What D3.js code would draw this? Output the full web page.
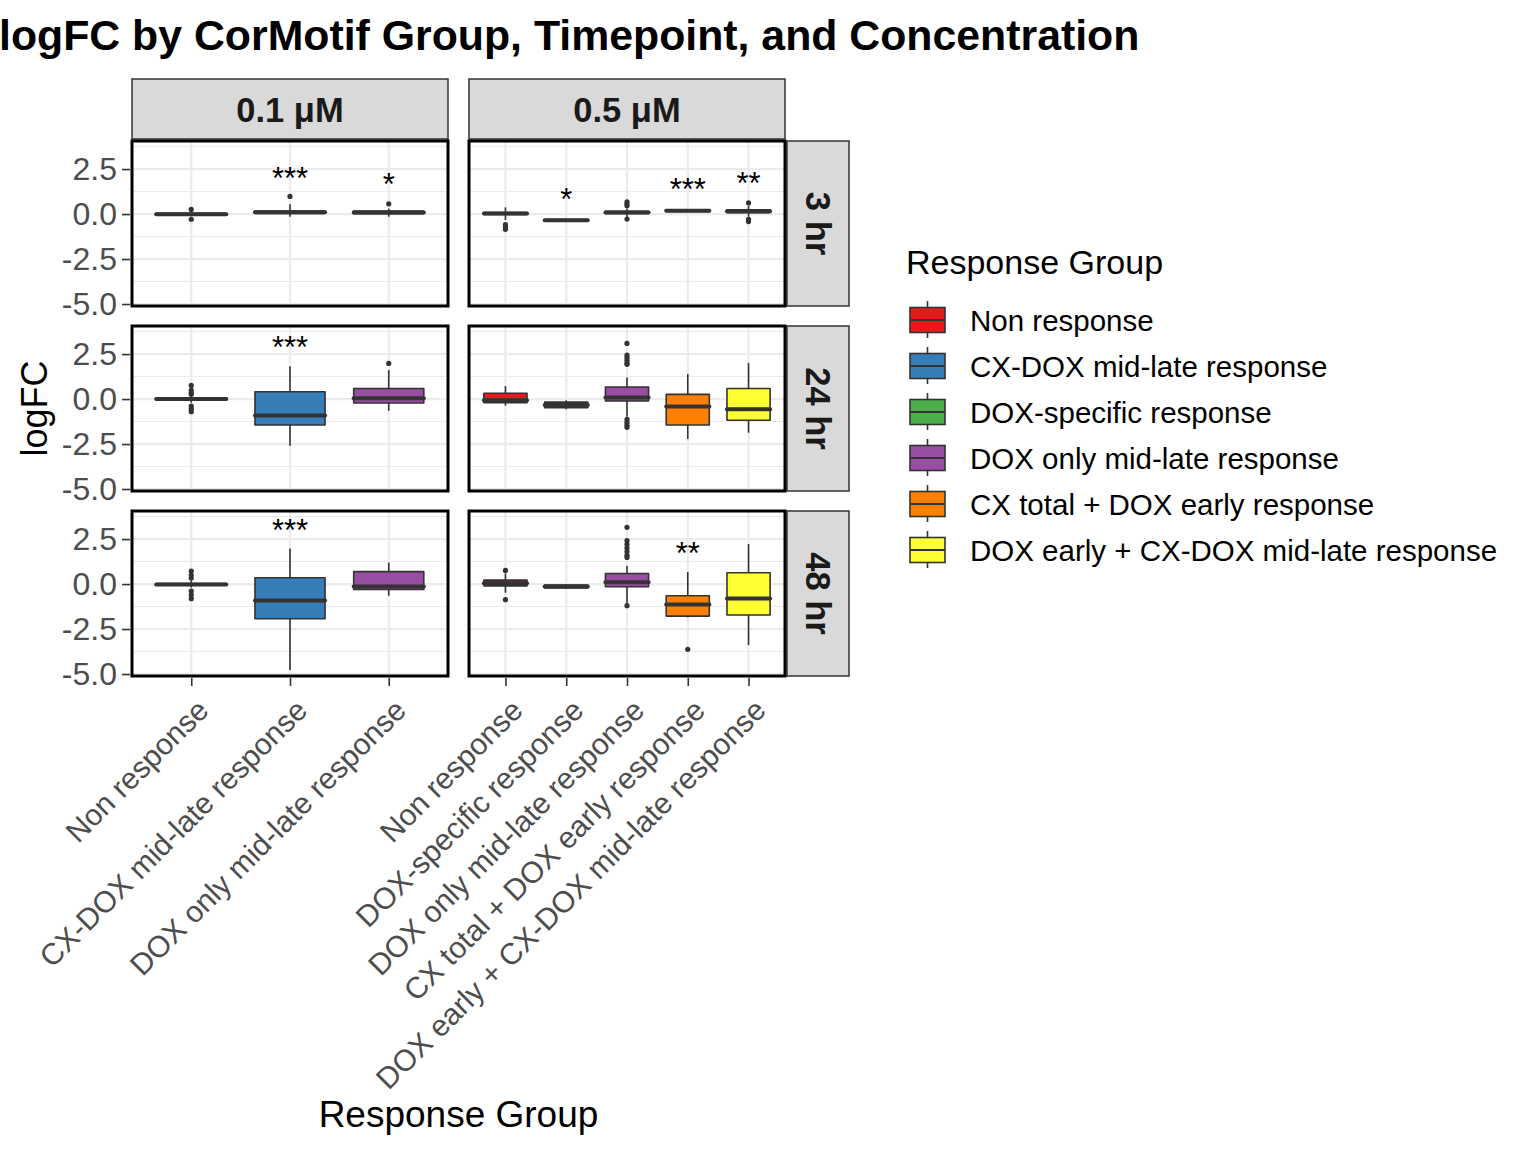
<!DOCTYPE html>
<html>
<head>
<meta charset="utf-8">
<script src="https://cdn.jsdelivr.net/npm/d3@7"></script>
<style>
  body { margin: 0; background: #fff; }
  text { font-family: "Liberation Sans", Arial, sans-serif; }
</style>
</head>
<body>
<svg id="chart" width="1536" height="1152"></svg>
<script>
// facet labels
const concentrations = ["0.1 μM", "0.5 μM"];
const timepoints = ["3 hr", "24 hr", "48 hr"];

// response groups + Set1 colours
const groups = [
  "Non response",
  "CX-DOX mid-late response",
  "DOX-specific response",
  "DOX only mid-late response",
  "CX total + DOX early response",
  "DOX early + CX-DOX mid-late response",
];
const groupColors = ["#E41A1C", "#377EB8", "#4DAF4A", "#984EA3", "#FF7F00", "#FFFF33"];

// groups present in each concentration column
const groups01 = ["Non response", "CX-DOX mid-late response", "DOX only mid-late response"];
const groups05 = [
  "Non response",
  "DOX-specific response",
  "DOX only mid-late response",
  "CX total + DOX early response",
  "DOX early + CX-DOX mid-late response",
];

const yTicks = [-5, -2.5, 0, 2.5];
const yTickLabels = ["-5.0", "-2.5", "0.0", "2.5"];
const yMinor = [-3.75, -1.25, 1.25, 3.75];

// box stats: [whisker low, q1, median, q3, whisker high], one row per group
const box3hr01 = [[-0.12, -0.05, -0.01, 0.04, 0.1], [-0.15, 0.04, 0.1, 0.17, 0.54], [-0.15, 0.02, 0.09, 0.16, 0.3]];
const out3hr01 = [[0.26, -0.29], [0.98], [0.57]];
const box3hr05 = [[-0.33, -0.02, 0.03, 0.08, 0.37], [-0.42, -0.39, -0.35, -0.31, -0.28], [-0.2, 0.03, 0.08, 0.15, 0.3], [0.12, 0.15, 0.19, 0.23, 0.26], [-0.15, 0.08, 0.15, 0.24, 0.45]];
const out3hr05 = [[-0.58, -0.7, -0.85], [], [0.46, 0.56, 0.68, -0.28], [], [0.62, -0.3, -0.42]];

const box24hr01 = [[-0.2, -0.04, 0.0, 0.05, 0.2], [-2.59, -1.44, -0.91, 0.41, 1.82], [-0.65, -0.22, 0.04, 0.59, 1.61]];
const out24hr01 = [[0.76, 0.5, 0.35, 0.27, -0.39, -0.55, -0.7], [], [1.98]];
const box24hr05 = [[-0.37, -0.2, -0.07, 0.32, 0.72], [-0.57, -0.48, -0.33, -0.17, -0.07], [-0.98, -0.11, 0.08, 0.67, 1.2], [-2.22, -1.44, -0.41, 0.26, 1.39], [-1.87, -1.18, -0.57, 0.59, 2.0]];
const out24hr05 = [[], [], [3.09, 2.44, 2.3, 2.15, 2.0, 1.93, -1.13, -1.3, -1.45, -1.57], [], []];

const box48hr01 = [[-0.2, -0.05, -0.02, 0.03, 0.2], [-4.78, -1.93, -0.91, 0.35, 1.98], [-0.65, -0.3, -0.13, 0.69, 1.2]];
const out48hr01 = [[0.72, 0.5, 0.33, -0.39, -0.6, -0.81], [], []];
const box48hr05 = [[-0.48, -0.1, 0.05, 0.22, 0.59], [-0.26, -0.22, -0.13, -0.05, -0.02], [-1.1, -0.15, 0.1, 0.59, 1.0], [-1.85, -1.78, -1.13, -0.65, 0.67], [-3.39, -1.72, -0.8, 0.63, 2.22]];
const out48hr05 = [[0.76, -0.87], [], [3.15, 2.41, 2.2, 2.0, 1.8, 1.6, 1.48, -1.2], [-3.63], []];

// significance labels: [row, col, group, label, y]
const stars = [
  [0, 0, "CX-DOX mid-late response", "***", 2.39],
  [0, 0, "DOX only mid-late response", "*", 2.02],
  [0, 1, "DOX-specific response", "*", 1.18],
  [0, 1, "CX total + DOX early response", "***", 1.74],
  [0, 1, "DOX early + CX-DOX mid-late response", "**", 2.11],
  [1, 0, "CX-DOX mid-late response", "***", 3.24],
  [2, 0, "CX-DOX mid-late response", "***", 3.37],
  [2, 1, "CX total + DOX early response", "**", 2.07],
];

const boxes = [[box3hr01, box3hr05], [box24hr01, box24hr05], [box48hr01, box48hr05]];
const outs = [[out3hr01, out3hr05], [out24hr01, out24hr05], [out48hr01, out48hr05]];
const colGroups = [groups01, groups05];

// layout
const colX = [[132, 448], [469, 785]];
const rowY = [141, 326, 511];
const panelH = 165;
const stripTop = { y0: 79, y1: 139 };
const stripRight = { x0: 787, x1: 849 };

const color = d3.scaleOrdinal().domain(groups).range(groupColors);
const svg = d3.select("#chart");

const xScales = colX.map((c, i) =>
  d3.scalePoint().domain(colGroups[i]).range(c).padding(0.6)
);
const yScales = rowY.map((top) =>
  d3.scaleLinear().domain([-5.11, 4.06]).range([top + panelH, top])
);

// title
svg.append("text")
  .attr("x", -1).attr("y", 50)
  .attr("font-size", 42.8).attr("font-weight", "bold")
  .attr("fill", "#000")
  .text("logFC by CorMotif Group, Timepoint, and Concentration");

// top strips
concentrations.forEach((c, i) => {
  const [x0, x1] = colX[i];
  svg.append("rect")
    .attr("x", x0).attr("y", stripTop.y0)
    .attr("width", x1 - x0).attr("height", stripTop.y1 - stripTop.y0)
    .attr("fill", "#D9D9D9").attr("stroke", "#333").attr("stroke-width", 1.5);
  svg.append("text")
    .attr("x", (x0 + x1) / 2).attr("y", 122)
    .attr("text-anchor", "middle")
    .attr("font-size", 34.5).attr("font-weight", "bold").attr("fill", "#1A1A1A")
    .text(c);
});

// right strips
timepoints.forEach((t, r) => {
  svg.append("rect")
    .attr("x", stripRight.x0).attr("y", rowY[r])
    .attr("width", stripRight.x1 - stripRight.x0).attr("height", panelH)
    .attr("fill", "#D9D9D9").attr("stroke", "#333").attr("stroke-width", 1.5);
  const cx = (stripRight.x0 + stripRight.x1) / 2;
  const cy = rowY[r] + panelH / 2;
  svg.append("text")
    .attr("transform", `translate(${cx},${cy}) rotate(90)`)
    .attr("text-anchor", "middle").attr("dy", "0.35em")
    .attr("font-size", 34.5).attr("font-weight", "bold").attr("fill", "#1A1A1A")
    .text(t);
});

// panels
rowY.forEach((top, r) => {
  const y = yScales[r];
  colX.forEach(([x0, x1], c) => {
    const x = xScales[c];
    const g = svg.append("g");
    const step = x.step();
    const bw = step * 0.71;

    // grid
    g.selectAll(".minor").data(yMinor).enter().append("line")
      .attr("x1", x0).attr("x2", x1)
      .attr("y1", (d) => y(d)).attr("y2", (d) => y(d))
      .attr("stroke", "#EBEBEB").attr("stroke-width", 1.1);
    g.selectAll(".major").data(yTicks).enter().append("line")
      .attr("x1", x0).attr("x2", x1)
      .attr("y1", (d) => y(d)).attr("y2", (d) => y(d))
      .attr("stroke", "#EBEBEB").attr("stroke-width", 2.2);
    g.selectAll(".vmajor").data(colGroups[c]).enter().append("line")
      .attr("x1", (d) => x(d)).attr("x2", (d) => x(d))
      .attr("y1", top).attr("y2", top + panelH)
      .attr("stroke", "#EBEBEB").attr("stroke-width", 2.2);

    // boxes
    const stats = boxes[r][c];
    colGroups[c].forEach((grp, i) => {
      const [lo, q1, med, q3, hi] = stats[i];
      const cx = x(grp);
      g.append("line")
        .attr("x1", cx).attr("x2", cx)
        .attr("y1", y(hi)).attr("y2", y(q3))
        .attr("stroke", "#333").attr("stroke-width", 1.6);
      g.append("line")
        .attr("x1", cx).attr("x2", cx)
        .attr("y1", y(q1)).attr("y2", y(lo))
        .attr("stroke", "#333").attr("stroke-width", 1.6);
      g.append("rect")
        .attr("x", cx - bw / 2).attr("width", bw)
        .attr("y", y(q3)).attr("height", Math.max(0.01, y(q1) - y(q3)))
        .attr("fill", color(grp))
        .attr("stroke", "#333").attr("stroke-width", 1.6)
        .attr("stroke-linejoin", "round");
      g.append("line")
        .attr("x1", cx - bw / 2).attr("x2", cx + bw / 2)
        .attr("y1", y(med)).attr("y2", y(med))
        .attr("stroke", "#333").attr("stroke-width", 4)
        .attr("stroke-linecap", "round");
      g.selectAll(null).data(outs[r][c][i]).enter().append("circle")
        .attr("cx", cx).attr("cy", (d) => y(d))
        .attr("r", 2.6).attr("fill", "#333");
    });

    // stars
    stars.filter((s) => s[0] === r && s[1] === c).forEach((s) => {
      g.append("text")
        .attr("x", x(s[2])).attr("y", y(s[4]) + 17.5)
        .attr("text-anchor", "middle")
        .attr("font-size", 31).attr("fill", "#000")
        .text(s[3]);
    });

    // border
    svg.append("rect")
      .attr("x", x0).attr("y", top)
      .attr("width", x1 - x0).attr("height", panelH)
      .attr("fill", "none").attr("stroke", "#000").attr("stroke-width", 3);
  });

  // y axis
  const ax = svg.append("g")
    .attr("transform", `translate(${colX[0][0] - 2},0)`)
    .call(d3.axisLeft(y).tickValues(yTicks)
      .tickFormat((d, i) => yTickLabels[i]).tickSize(8).tickPadding(5));
  ax.select(".domain").remove();
  ax.selectAll(".tick line").attr("stroke", "#333").attr("stroke-width", 1.6);
  ax.selectAll(".tick text")
    .attr("fill", "#4D4D4D").attr("font-size", 32)
    .attr("font-family", "Liberation Sans, Arial, sans-serif");
});

// x axes (bottom row)
const bottom = rowY[2] + panelH + 2;
xScales.forEach((x, c) => {
  const ax = svg.append("g")
    .attr("transform", `translate(0,${bottom})`)
    .call(d3.axisBottom(x).tickSize(8).tickFormat(""));
  ax.select(".domain").remove();
  ax.selectAll(".tick line").attr("stroke", "#333").attr("stroke-width", 1.6);

  svg.selectAll(null).data(colGroups[c]).enter().append("text")
    .attr("transform", (d) => `translate(${x(d) + 4},${bottom + 19}) rotate(-45)`)
    .attr("text-anchor", "end").attr("dy", "0.71em")
    .attr("font-size", 30).attr("fill", "#4D4D4D")
    .text((d) => d);
});

// axis titles
svg.append("text")
  .attr("transform", `translate(47,${rowY[0] + (rowY[2] + panelH - rowY[0]) / 2}) rotate(-90)`)
  .attr("text-anchor", "middle")
  .attr("font-size", 36).attr("fill", "#000")
  .text("logFC");
svg.append("text")
  .attr("x", (colX[0][0] + colX[1][1]) / 2).attr("y", 1127)
  .attr("text-anchor", "middle")
  .attr("font-size", 37).attr("fill", "#000")
  .text("Response Group");

// legend
const legend = svg.append("g");
legend.append("text")
  .attr("x", 906).attr("y", 274)
  .attr("font-size", 34).attr("fill", "#000")
  .text("Response Group");
groups.forEach((grp, i) => {
  const cy = 320 + 46 * i;
  legend.append("line")
    .attr("x1", 927.5).attr("x2", 927.5)
    .attr("y1", cy - 19).attr("y2", cy + 18)
    .attr("stroke", "#333").attr("stroke-width", 1.6);
  legend.append("rect")
    .attr("x", 910).attr("y", cy - 12.5)
    .attr("width", 35).attr("height", 25)
    .attr("fill", color(grp)).attr("stroke", "#333").attr("stroke-width", 1.6);
  legend.append("line")
    .attr("x1", 910).attr("x2", 945)
    .attr("y1", cy).attr("y2", cy)
    .attr("stroke", "#333").attr("stroke-width", 1.8);
  legend.append("text")
    .attr("x", 970).attr("y", cy + 11)
    .attr("font-size", 29.5).attr("fill", "#000")
    .text(grp);
});
</script>
</body>
</html>
